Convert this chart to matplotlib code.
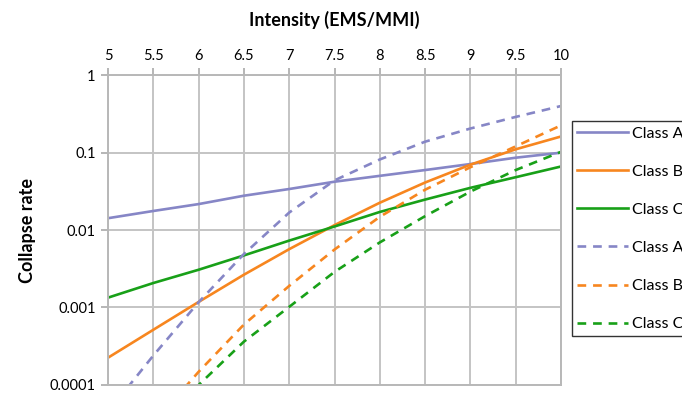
# Collapse rate vs intensity, per vulnerability class
import numpy as np
import matplotlib.pyplot as plt

plt.rcParams['font.family'] = ['Lato', 'DejaVu Sans']

intensity = [5, 5.5, 6, 6.5, 7, 7.5, 8, 8.5, 9, 9.5, 10]

# solid curves
class_a = [0.0142, 0.0176, 0.0216, 0.0277, 0.0338, 0.042, 0.050, 0.0594, 0.071, 0.0857, 0.0995]
class_b = [0.000225, 0.000516, 0.00118, 0.00265, 0.00566, 0.01156, 0.0225, 0.041, 0.0697, 0.110, 0.161]
class_c = [0.00134, 0.00207, 0.00307, 0.0047, 0.0073, 0.0111, 0.0171, 0.0247, 0.035, 0.048, 0.066]

# dashed curves (they run off the bottom of the axis at low intensity)
class_a_d = [4.5e-5, 0.00024, 0.00117, 0.0049, 0.0168, 0.0437, 0.0813, 0.138, 0.204, 0.288, 0.398]
class_b_d = [None, 3.2e-5, 0.000148, 0.000603, 0.0019, 0.0056, 0.0148, 0.0331, 0.0646, 0.120, 0.224]
class_c_d = [None, 2.5e-5, 0.0001, 0.000363, 0.00102, 0.00288, 0.00692, 0.0151, 0.0313, 0.0594, 0.102]

labels = ['Class A', 'Class B', 'Class C', 'Class A', 'Class B', 'Class C']
purple, orange, green = '#8686c6', '#f7861f', '#18a018'

fh = plt.figure(figsize=(6.82, 3.99), dpi=100)
ax = fh.add_axes([0.1584, 0.0351, 0.8226 - 0.1584, 0.812 - 0.0351])

series = [class_a, class_b, class_c, class_a_d, class_b_d, class_c_d]
colors = [purple, orange, green] * 2
for i, ys in enumerate(series):
    xs = [x for x, y in zip(intensity, ys) if y is not None]
    ys = [y for y in ys if y is not None]
    if i < 3:
        ax.plot(xs, ys, color=colors[i], lw=1.9, label=labels[i])
    else:
        ax.plot(xs, ys, color=colors[i], lw=1.9, dashes=(3.3, 2.6), label=labels[i])

ax.set_yscale('log')
ax.set_xlim(5, 10)
ax.set_ylim(0.0001, 1)
ax.set_xticks(np.arange(5, 10.01, 0.5))
ax.set_xticklabels(['5', '5.5', '6', '6.5', '7', '7.5', '8', '8.5', '9', '9.5', '10'])
ax.set_yticks([0.0001, 0.001, 0.01, 0.1, 1])
ax.set_yticklabels(['0.0001', '0.001', '0.01', '0.1', '1'])
ax.minorticks_off()
ax.xaxis.tick_top()
ax.xaxis.set_label_position('top')
ax.tick_params(axis='both', colors='#b0b0b0', labelcolor='black', length=5, width=1.3,
               labelsize=10.5, pad=4)
ax.grid(True, color='#c4c4c4', lw=1.4)
for s in ax.spines.values():
    s.set_color('#b8b8b8')
    s.set_linewidth(1.4)

ax.set_xlabel('Intensity (EMS/MMI)', fontsize=13, fontweight='bold', labelpad=16)
ax.set_ylabel('Collapse rate', fontsize=13, fontweight='bold', labelpad=10)

# legend box runs past the right edge, as in the original
leg = fh.legend(loc='upper left', bbox_to_anchor=(0.838, 0.696), frameon=True,
                fancybox=False, edgecolor='black', fontsize=11.5, handlelength=3.2,
                labelspacing=1.5, borderpad=0.32, handletextpad=0.28,
                borderaxespad=0)
leg.get_frame().set_linewidth(1.0)

fh.savefig('out.png', dpi=100)
